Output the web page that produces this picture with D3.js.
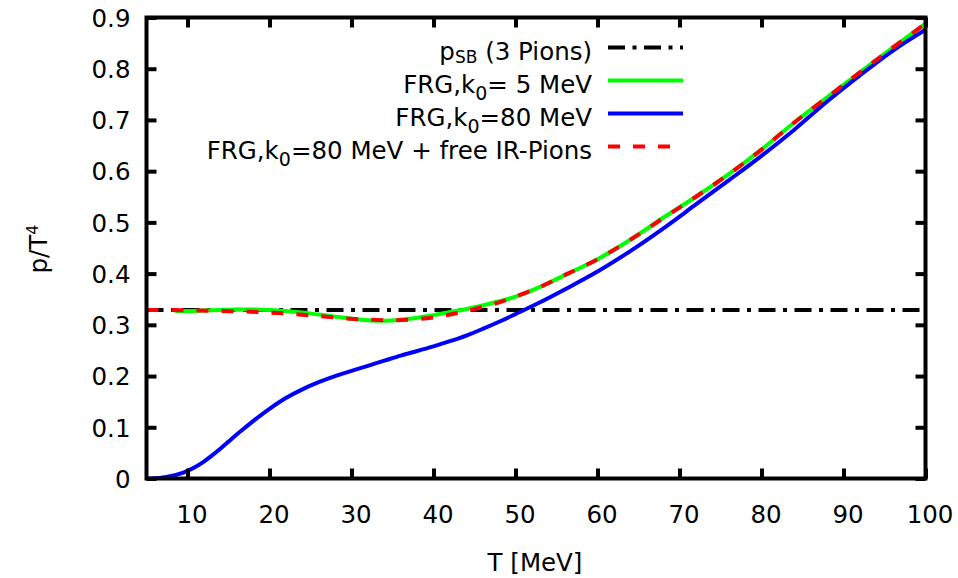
<!DOCTYPE html>
<html>
<head>
<meta charset="utf-8">
<script src="https://cdn.jsdelivr.net/npm/d3@7"></script>
<style>
  body { margin: 0; background: #fff; }
  svg text { font-family: "DejaVu Sans", Verdana, sans-serif; fill: #000; }
</style>
</head>
<body>
<svg id="chart" width="958" height="578"></svg>
<script>
// Axis ticks
const xTicks = [10, 20, 30, 40, 50, 60, 70, 80, 90, 100];
const yTicks = [0, 0.1, 0.2, 0.3, 0.4, 0.5, 0.6, 0.7, 0.8, 0.9];

// Stefan-Boltzmann limit for 3 massless pions: pi^2/30
const sbT = [5, 100];
const sbP = [0.329, 0.329];

// FRG, k0 = 5 MeV
const greenT = [8.5, 10, 12, 14, 16, 18, 20, 22, 24, 26, 28, 30, 32, 34, 36, 38, 40, 42, 44, 46, 48, 50, 53, 56, 60, 64, 68, 72, 76, 80, 84, 88, 92, 96, 100];
const greenP = [0.327, 0.327, 0.328, 0.329, 0.330, 0.330, 0.329, 0.327, 0.324, 0.320, 0.316, 0.312, 0.309, 0.308, 0.310, 0.314, 0.319, 0.325, 0.331, 0.338, 0.346, 0.355, 0.374, 0.397, 0.428, 0.466, 0.509, 0.550, 0.594, 0.642, 0.695, 0.744, 0.793, 0.841, 0.888];

// FRG, k0 = 80 MeV
const blueT = [5, 6, 7, 8, 9, 10, 11, 12, 13, 14, 15, 16, 17, 18, 20, 22, 24, 26, 28, 30, 32, 34, 36, 38, 40, 42, 44, 46, 48, 50, 53, 56, 60, 64, 68, 72, 76, 80, 84, 88, 92, 96, 100];
const blueP = [0.000, 0.0005, 0.002, 0.005, 0.009, 0.015, 0.023, 0.033, 0.045, 0.058, 0.072, 0.086, 0.099, 0.112, 0.136, 0.157, 0.174, 0.188, 0.200, 0.210, 0.220, 0.230, 0.240, 0.249, 0.258, 0.268, 0.279, 0.292, 0.306, 0.321, 0.344, 0.369, 0.404, 0.444, 0.488, 0.535, 0.582, 0.630, 0.681, 0.736, 0.787, 0.835, 0.876];

// FRG, k0 = 80 MeV + free IR pions
const redT = [5, 8, 11, 14, 17, 20, 23, 26, 29, 32, 35, 38, 41, 44, 47, 50, 53, 56, 60, 64, 68, 72, 76, 80, 84, 88, 92, 96, 100];
const redP = [0.329, 0.329, 0.328, 0.327, 0.326, 0.324, 0.321, 0.317, 0.313, 0.310, 0.309, 0.311, 0.317, 0.327, 0.339, 0.355, 0.374, 0.397, 0.428, 0.466, 0.508, 0.550, 0.594, 0.642, 0.695, 0.744, 0.793, 0.841, 0.888];

// Legend labels: [text, role] pieces
const legendSB = [["p", ""], ["SB", "sub"], [" (3 Pions)", ""]];
const legendGreen = [["FRG,k", ""], ["0", "sub"], ["= 5 MeV", ""]];
const legendBlue = [["FRG,k", ""], ["0", "sub"], ["=80 MeV", ""]];
const legendRed = [["FRG,k", ""], ["0", "sub"], ["=80 MeV + free IR-Pions", ""]];

const xLabel = "T [MeV]";
const yLabelBase = "p/T";
const yLabelSup = "4";

const svg = d3.select("#chart");
const L = 146.5, R = 925.5, T0 = 17.5, B = 478.5;
const FS = 24.5;

const x = d3.scaleLinear().domain([5, 100]).range([L, R]);
const y = d3.scaleLinear().domain([0, 0.9]).range([B, T0]);

const zip = (a, b) => a.map((v, i) => [v, b[i]]);

const line = d3.line()
  .x(d => x(d[0]))
  .y(d => y(d[1]))
  .curve(d3.curveCatmullRom.alpha(0.5));

// Curves
const series = [
  { data: zip(sbT, sbP), color: "#000000", dash: "17,7.5,4,7.5", legend: legendSB },
  { data: zip(greenT, greenP), color: "#00ff00", dash: null, legend: legendGreen },
  { data: zip(blueT, blueP), color: "#0000ff", dash: null, legend: legendBlue },
  { data: zip(redT, redP), color: "#ff0000", dash: "12,13", legend: legendRed }
];

svg.append("defs").append("clipPath").attr("id", "plotclip")
  .append("rect").attr("x", L).attr("y", T0).attr("width", R - L).attr("height", B - T0);

const plot = svg.append("g").attr("clip-path", "url(#plotclip)");
series.forEach(s => {
  plot.append("path")
    .datum(s.data)
    .attr("d", line)
    .attr("fill", "none")
    .attr("stroke", s.color)
    .attr("stroke-width", 4)
    .attr("stroke-dasharray", s.dash)
    .attr("stroke-linecap", "butt");
});

// Axes with inward ticks on all four sides
function styleAxis(g) {
  g.select(".domain").remove();
  g.selectAll(".tick line").attr("stroke", "#000").attr("stroke-width", 4);
  g.selectAll(".tick text")
    .style("font-family", '"DejaVu Sans", Verdana, sans-serif')
    .style("font-size", FS + "px")
    .attr("fill", "#000");
}

svg.append("g").attr("transform", `translate(0,${B})`)
  .call(d3.axisBottom(x).tickValues(xTicks).tickSize(-10).tickSizeOuter(0).tickPadding(0).tickFormat(d3.format("d")))
  .call(styleAxis)
  .call(g => g.selectAll(".tick text").attr("y", 44).attr("dy", null).attr("dx", 4));

svg.append("g").attr("transform", `translate(0,${T0})`)
  .call(d3.axisTop(x).tickValues(xTicks).tickSize(-10).tickSizeOuter(0).tickFormat(""))
  .call(styleAxis);

svg.append("g").attr("transform", `translate(${L},0)`)
  .call(d3.axisLeft(y).tickValues(yTicks).tickSize(-10).tickSizeOuter(0).tickFormat(d => d === 0 ? "0" : d3.format(".1f")(d)))
  .call(styleAxis)
  .call(g => g.selectAll(".tick text").attr("x", -16).attr("dy", "0.36em"));

svg.append("g").attr("transform", `translate(${R},0)`)
  .call(d3.axisRight(y).tickValues(yTicks).tickSize(-10).tickSizeOuter(0).tickFormat(""))
  .call(styleAxis);

// Frame
svg.append("rect")
  .attr("x", L).attr("y", T0).attr("width", R - L).attr("height", B - T0)
  .attr("fill", "none").attr("stroke", "#000").attr("stroke-width", 4);

// Axis titles
svg.append("text")
  .attr("x", (L + R) / 2 - 1).attr("y", 571)
  .attr("text-anchor", "middle")
  .style("font-size", FS + "px")
  .text(xLabel);

const yl = svg.append("text")
  .attr("transform", `translate(47,${(T0 + B) / 2 + 1}) rotate(-90)`)
  .attr("text-anchor", "middle")
  .style("font-size", FS + "px");
yl.append("tspan").text(yLabelBase);
yl.append("tspan").attr("dy", -9).style("font-size", "16px").text(yLabelSup);

// Legend
const legX = 592, sampleX0 = 608, sampleX1 = 683;
const rows = [47.5, 80.5, 113.5, 146.5];
series.forEach((s, i) => {
  const ry = rows[i];
  const t = svg.append("text")
    .attr("x", legX).attr("y", ry + 12)
    .attr("text-anchor", "end")
    .style("font-size", FS + "px");
  let shift = 0;
  s.legend.forEach(([txt, role]) => {
    const sp = t.append("tspan").text(txt);
    if (role === "sub") {
      const isSB = txt === "SB";
      const d = isSB ? 3 : 7;
      sp.attr("dy", d - shift).style("font-size", isSB ? "17px" : "19px");
      shift = d;
    } else if (shift) {
      sp.attr("dy", -shift);
      shift = 0;
    }
  });
  svg.append("line")
    .attr("x1", sampleX0).attr("x2", sampleX1)
    .attr("y1", ry).attr("y2", ry)
    .attr("stroke", s.color)
    .attr("stroke-width", 4)
    .attr("stroke-dasharray", s.dash);
});
</script>
</body>
</html>
